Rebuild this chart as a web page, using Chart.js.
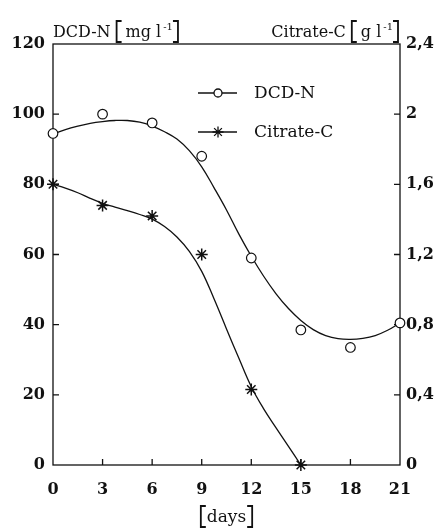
<!DOCTYPE html>
<html>
<head>
<meta charset="utf-8">
<script src="https://cdn.jsdelivr.net/npm/chart.js@4.4.1/dist/chart.umd.min.js"></script>
<style>
  html, body { margin: 0; background: #fff; }
  #wrap { width: 438px; height: 529px; position: relative; }
</style>
</head>
<body>
<div id="wrap"><canvas id="c"></canvas></div>
<script>
// measured points
const days = [0, 3, 6, 9, 12, 15, 18, 21];
const dcdN = [94.5, 100, 97.5, 88, 59, 38.5, 33.5, 40.5];          // mg l-1, left axis
const citrateDays = [0, 3, 6, 9, 12, 15];
const citrateC = [1.60, 1.48, 1.42, 1.20, 0.43, 0];               // g l-1, right axis

// hand-drawn fit curves, every 0.75 day
const dcdFitDays = [0, 0.75, 1.5, 2.25, 3, 3.75, 4.5, 5.25, 6, 6.75, 7.5, 8.25, 9, 9.75, 10.5,
  11.25, 12, 12.75, 13.5, 14.25, 15, 15.75, 16.5, 17.25, 18, 18.75, 19.5, 20.25, 21];
const dcdFit = [94.3, 95.6, 96.6, 97.4, 97.9, 98.2, 98.2, 97.7, 96.6, 95.0, 92.9, 89.6, 85.0, 79.0, 72.7,
  65.8, 59.5, 53.8, 48.8, 44.6, 41.2, 38.6, 36.9, 36.0, 35.8, 36.1, 36.9, 38.4, 40.5];
const citrateFitDays = [0, 0.75, 1.5, 2.25, 3, 3.75, 4.5, 5.25, 6, 6.75, 7.5, 8.25, 9, 9.75, 10.5,
  11.25, 12, 12.75, 13.5, 14.25, 15];
const citrateFit = [1.600, 1.578, 1.552, 1.520, 1.492, 1.470, 1.450, 1.428, 1.402, 1.360, 1.300,
  1.218, 1.104, 0.946, 0.776, 0.608, 0.446, 0.320, 0.212, 0.106, 0];

const leftTicks = [0, 20, 40, 60, 80, 100, 120];
const rightTicks = [0, 0.4, 0.8, 1.2, 1.6, 2.0, 2.4];
const xTicks = [0, 3, 6, 9, 12, 15, 18, 21];

const INK = '#111';
const FONT = '"DejaVu Serif", serif';

const pts = (xs, ys) => xs.map((x, i) => ({ x, y: ys[i] }));
const commaNum = v => String(Number(v.toFixed(1))).replace('.', ',');

// frame box + inward tick marks
const framePlugin = {
  id: 'frame',
  beforeDatasetsDraw(chart) {
    const { ctx, chartArea: a, scales } = chart;
    ctx.save();
    ctx.strokeStyle = INK;
    ctx.lineWidth = 1.3;
    ctx.strokeRect(a.left, a.top, a.right - a.left, a.bottom - a.top);
    ctx.beginPath();
    xTicks.slice(1, -1).forEach(v => {
      const px = scales.x.getPixelForValue(v);
      ctx.moveTo(px, a.bottom); ctx.lineTo(px, a.bottom - 6);
    });
    leftTicks.slice(1, -1).forEach(v => {
      const py = scales.y.getPixelForValue(v);
      ctx.moveTo(a.left, py); ctx.lineTo(a.left + 6, py);
    });
    rightTicks.slice(1, -1).forEach(v => {
      const py = scales.y1.getPixelForValue(v);
      ctx.moveTo(a.right, py); ctx.lineTo(a.right - 6, py);
    });
    ctx.stroke();
    ctx.restore();
  }
};

function bracket(ctx, x, top, bottom, dir) {
  ctx.beginPath();
  ctx.moveTo(x + 5 * dir, top);
  ctx.lineTo(x, top);
  ctx.lineTo(x, bottom);
  ctx.lineTo(x + 5 * dir, bottom);
  ctx.stroke();
}

// "Name [unit^-1]" with tall brackets
function unitLabel(ctx, x, base, name, unit, alignRight) {
  const big = '16px ' + FONT, small = '10px ' + FONT;
  ctx.font = big;
  const wName = ctx.measureText(name).width;
  const wUnit = ctx.measureText(unit).width;
  ctx.font = small;
  const wSup = ctx.measureText('-1').width;
  const total = wName + 6 + 9 + wUnit + 2 + wSup + 5;
  let cx = alignRight ? x - total : x;
  ctx.textBaseline = 'alphabetic';
  ctx.textAlign = 'left';
  ctx.font = big;
  ctx.fillText(name, cx, base);
  cx += wName + 6;
  bracket(ctx, cx, base - 16, base + 5, 1);
  cx += 9;
  ctx.fillText(unit, cx, base);
  cx += wUnit + 2;
  ctx.font = small;
  ctx.fillText('-1', cx, base - 7);
  cx += wSup + 5;
  bracket(ctx, cx, base - 16, base + 5, -1);
}

const textPlugin = {
  id: 'texts',
  afterDraw(chart) {
    const { ctx, chartArea: a } = chart;
    ctx.save();
    ctx.fillStyle = INK;
    ctx.strokeStyle = INK;
    ctx.lineWidth = 1.8;

    unitLabel(ctx, a.left, 37, 'DCD-N', 'mg l', false);
    unitLabel(ctx, a.right - 2, 37, 'Citrate-C', 'g l', true);

    // [days]
    ctx.font = '17px ' + FONT;
    ctx.textAlign = 'center';
    ctx.textBaseline = 'alphabetic';
    const mid = (a.left + a.right) / 2;
    const w = ctx.measureText('days').width;
    ctx.fillText('days', mid, 522);
    bracket(ctx, mid - w / 2 - 6, 506, 527, 1);
    bracket(ctx, mid + w / 2 + 6, 506, 527, -1);

    // legend inside plot
    const rows = [
      { ds: chart.data.datasets[0], y: 93, r: 4 },
      { ds: chart.data.datasets[1], y: 132, r: 5.5 }
    ];
    rows.forEach(row => {
      ctx.lineWidth = 1.3;
      ctx.beginPath();
      ctx.moveTo(a.left + 145, row.y);
      ctx.lineTo(a.left + 184, row.y);
      ctx.stroke();
      ctx.fillStyle = '#fff';
      Chart.helpers.drawPoint(ctx, {
        pointStyle: row.ds.pointStyle, radius: row.r, borderWidth: 1.3
      }, a.left + 165, row.y);
      ctx.fillStyle = INK;
      ctx.font = '17px ' + FONT;
      ctx.textAlign = 'left';
      ctx.textBaseline = 'middle';
      ctx.fillText(row.ds.label, a.left + 201, row.y + 1);
    });
    ctx.restore();
  }
};

new Chart(document.getElementById('c'), {
  type: 'scatter',
  data: {
    datasets: [
      {
        label: 'DCD-N', data: pts(days, dcdN), yAxisID: 'y', order: 0,
        pointStyle: 'circle', pointRadius: 4.8, pointBorderWidth: 1.2,
        pointBorderColor: INK, pointBackgroundColor: '#fff', showLine: false, clip: false
      },
      {
        label: 'Citrate-C', data: pts(citrateDays, citrateC), yAxisID: 'y1', order: 0,
        pointStyle: 'star', pointRadius: 6, pointBorderWidth: 1.5,
        pointBorderColor: INK, pointBackgroundColor: INK, showLine: false, clip: false
      },
      {
        label: 'DCD-N fit', data: pts(dcdFitDays, dcdFit), yAxisID: 'y', order: 1,
        showLine: true, pointRadius: 0, borderColor: INK, borderWidth: 1.3,
        tension: 0.4
      },
      {
        label: 'Citrate-C fit', data: pts(citrateFitDays, citrateFit), yAxisID: 'y1', order: 1,
        showLine: true, pointRadius: 0, borderColor: INK, borderWidth: 1.3,
        tension: 0.4
      }
    ]
  },
  options: {
    responsive: true,
    maintainAspectRatio: false,
    animation: false,
    layout: { padding: { top: 44, left: 0, right: 0, bottom: 0 } },
    plugins: { legend: { display: false }, tooltip: { enabled: false } },
    scales: {
      x: {
        type: 'linear', min: 0, max: 21,
        afterBuildTicks: s => { s.ticks = xTicks.map(v => ({ value: v })); },
        afterFit: s => { s.height = 64; },
        grid: { display: false, drawTicks: false },
        border: { display: false },
        ticks: { color: INK, padding: 15, font: { family: FONT, size: 16, weight: 'bold' } }
      },
      y: {
        position: 'left', min: 0, max: 120,
        afterBuildTicks: s => { s.ticks = leftTicks.map(v => ({ value: v })); },
        afterFit: s => { s.width = 53; },
        grid: { display: false, drawTicks: false },
        border: { display: false },
        ticks: { color: INK, padding: 8, font: { family: FONT, size: 16, weight: 'bold' } }
      },
      y1: {
        position: 'right', min: 0, max: 2.4,
        afterBuildTicks: s => { s.ticks = rightTicks.map(v => ({ value: v })); },
        afterFit: s => { s.width = 38; },
        grid: { display: false, drawTicks: false },
        border: { display: false },
        ticks: {
          color: INK, padding: 6, font: { family: FONT, size: 16, weight: 'bold' },
          callback: v => commaNum(v)
        }
      }
    }
  },
  plugins: [framePlugin, textPlugin]
});
</script>
</body>
</html>
